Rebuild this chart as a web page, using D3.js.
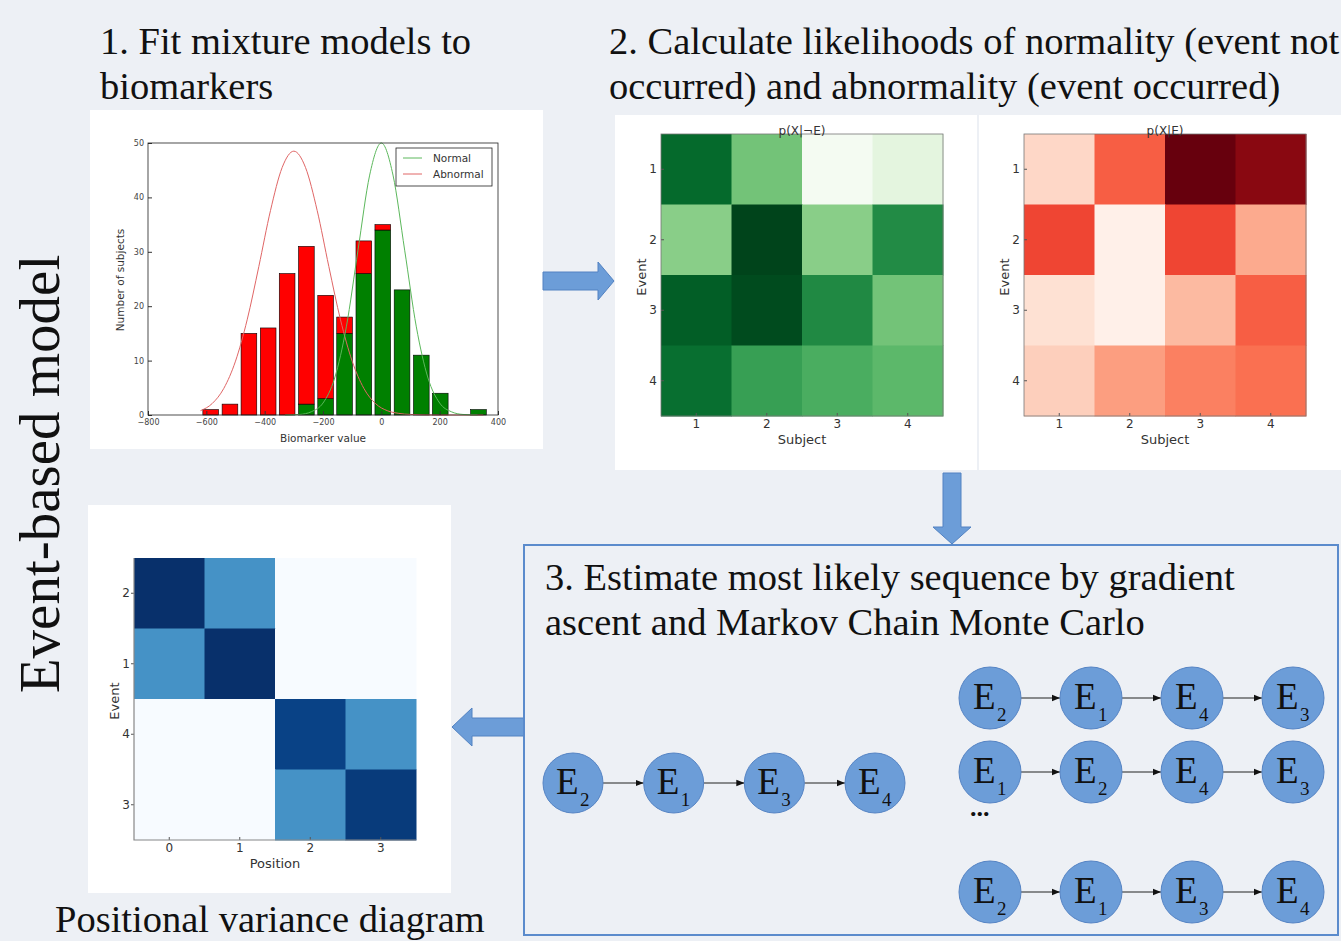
<!DOCTYPE html>
<html>
<head>
<meta charset="utf-8">
<script src="https://d3js.org/d3.v7.min.js"></script>
<style>
  body { margin: 0; background: #edf0f5; }
  svg { display: block; }
</style>
</head>
<body>
<svg id="svg" width="1341" height="941"></svg>
<script>
// ---- data ----
const binCenters = [-585, -519, -454, -388, -323, -257, -191, -126, -60, 5, 71, 137, 202, 268, 333];
const normalCounts = [0, 0, 0, 0, 0, 2, 3, 15, 26, 34, 23, 11, 4, 0, 1];
const abnormalCounts = [1, 2, 15, 16, 26, 29, 19, 3, 6, 1, 0, 0, 0, 0, 0];
const binWidth = 65.6;

const normalCurveX = [-330, -280, -240, -200, -160, -120, -80, -40, 0, 40, 80, 120, 160, 200, 240, 280, 330];
const normalCurveY = [0, 0.1, 0.6, 2.2, 6.8, 16.2, 30.3, 44.1, 50, 44.1, 30.3, 16.2, 6.8, 2.2, 0.6, 0.1, 0];
const abnormalCurveX = [-620, -580, -540, -500, -460, -420, -380, -340, -300, -260, -220, -180, -140, -100, -60, -20, 20, 60, 100, 200, 350];
const abnormalCurveY = [0.8, 2.1, 4.9, 9.9, 17.5, 27.3, 37.6, 45.5, 48.5, 45.5, 37.6, 27.3, 17.5, 9.9, 4.9, 2.1, 0.8, 0.3, 0.1, 0, 0];

const histXTicks = [-800, -600, -400, -200, 0, 200, 400];
const histYTicks = [0, 10, 20, 30, 40, 50];

const subjects = [1, 2, 3, 4];
const events = [1, 2, 3, 4];
// rows = events, columns = subjects
const pNotE = [
  [0.88, 0.50, 0.02, 0.12],
  [0.44, 1.00, 0.44, 0.75],
  [0.92, 0.98, 0.76, 0.50],
  [0.86, 0.67, 0.61, 0.56]
];
const pE = [
  [0.15, 0.53, 1.00, 0.93],
  [0.60, 0.03, 0.60, 0.30],
  [0.11, 0.03, 0.25, 0.53],
  [0.18, 0.34, 0.43, 0.48]
];

const pvEvents = [2, 1, 4, 3];
const positions = [0, 1, 2, 3];
const pvValues = [
  [1.00, 0.62, 0, 0],
  [0.62, 1.00, 0, 0],
  [0, 0, 0.93, 0.62],
  [0, 0, 0.62, 0.96]
];

const mlSequence = [2, 1, 3, 4];
const mcmcSequences = [[2, 1, 4, 3], [1, 2, 4, 3], [2, 1, 3, 4]];

// ---- drawing ----
const svg = d3.select('#svg');
const serif = '"Liberation Serif", "Times New Roman", serif';
const sans = '"DejaVu Sans", sans-serif';
const arrowBlue = '#6c9dd8';
const arrowEdge = '#5282c2';

svg.append('rect').attr('width', 1341).attr('height', 941).attr('fill', '#edf0f5');

// white panels
svg.append('rect').attr('x', 90).attr('y', 110).attr('width', 453).attr('height', 339).attr('fill', '#fff');
svg.append('rect').attr('x', 615).attr('y', 115).attr('width', 362).attr('height', 355).attr('fill', '#fff');
svg.append('rect').attr('x', 979).attr('y', 115).attr('width', 362).attr('height', 355).attr('fill', '#fff');
svg.append('rect').attr('x', 88).attr('y', 505).attr('width', 363).attr('height', 388).attr('fill', '#fff');

// titles
const addText = (x, y, txt, size, opts = {}) => {
  const t = svg.append('text').attr('x', x).attr('y', y).text(txt)
    .attr('font-family', opts.family || serif).attr('font-size', size).attr('fill', opts.fill || '#111');
  if (opts.anchor) t.attr('text-anchor', opts.anchor);
  if (opts.transform) t.attr('transform', opts.transform);
  return t;
};
addText(100, 54, '1. Fit mixture models to', 38.5);
addText(100, 99, 'biomarkers', 38.5);
addText(609, 54, '2. Calculate likelihoods of normality (event not', 38.5);
addText(609, 99, 'occurred) and abnormality (event occurred)', 38.5);
addText(545, 590, '3. Estimate most likely sequence by gradient', 38.5);
addText(545, 635, 'ascent and Markov Chain Monte Carlo', 38.5);
addText(55, 932, 'Positional variance diagram', 38.5);
addText(0, 0, 'Event-based model', 57, { anchor: 'middle', transform: 'translate(59,474) rotate(-90)' });

// ---- histogram ----
const hx = d3.scaleLinear().domain([-800, 400]).range([148, 498]);
const hy = d3.scaleLinear().domain([0, 50]).range([415, 143]);
const hist = svg.append('g');
const barW = hx(binWidth * 0.82) - hx(0);

hist.selectAll('rect.normal').data(binCenters).enter().append('rect')
  .attr('x', (d) => hx(d) - barW / 2)
  .attr('y', (d, i) => hy(normalCounts[i]))
  .attr('width', barW)
  .attr('height', (d, i) => hy(0) - hy(normalCounts[i]))
  .attr('fill', '#008000').attr('stroke', '#000').attr('stroke-width', 0.6)
  .style('display', (d, i) => normalCounts[i] ? null : 'none');

hist.selectAll('rect.abnormal').data(binCenters).enter().append('rect')
  .attr('x', (d) => hx(d) - barW / 2)
  .attr('y', (d, i) => hy(normalCounts[i] + abnormalCounts[i]))
  .attr('width', barW)
  .attr('height', (d, i) => hy(normalCounts[i]) - hy(normalCounts[i] + abnormalCounts[i]))
  .attr('fill', '#ff0000').attr('stroke', '#000').attr('stroke-width', 0.6)
  .style('display', (d, i) => abnormalCounts[i] ? null : 'none');

const curve = d3.line().x((d) => hx(d[0])).y((d) => hy(d[1])).curve(d3.curveMonotoneX);
hist.append('path').attr('d', curve(abnormalCurveX.map((x, i) => [x, abnormalCurveY[i]])))
  .attr('fill', 'none').attr('stroke', '#e06666').attr('stroke-width', 1);
hist.append('path').attr('d', curve(normalCurveX.map((x, i) => [x, normalCurveY[i]])))
  .attr('fill', 'none').attr('stroke', '#5cb85c').attr('stroke-width', 1);

const styleAxis = (g) => {
  g.selectAll('text').attr('font-family', sans).attr('font-size', 8).attr('fill', '#444');
  g.selectAll('line').attr('stroke', '#333');
  g.select('.domain').remove();
};
hist.append('g').attr('transform', 'translate(0,415)')
  .call(d3.axisBottom(hx).tickValues(histXTicks).tickSizeInner(-4).tickSizeOuter(0).tickPadding(4)
    .tickFormat((d) => d < 0 ? '\u2212' + Math.abs(d) : d))
  .call(styleAxis);
hist.append('g').attr('transform', 'translate(148,0)')
  .call(d3.axisLeft(hy).tickValues(histYTicks).tickSizeInner(-4).tickSizeOuter(0).tickPadding(4))
  .call(styleAxis);
hist.append('rect').attr('x', 148).attr('y', 143).attr('width', 350).attr('height', 272)
  .attr('fill', 'none').attr('stroke', '#222').attr('stroke-width', 0.8);
addText(323, 442, 'Biomarker value', 10.5, { family: sans, anchor: 'middle', fill: '#333' });
addText(0, 0, 'Number of subjects', 10.5, { family: sans, anchor: 'middle', fill: '#333', transform: 'translate(124,280) rotate(-90)' });

// legend
const leg = hist.append('g');
leg.append('rect').attr('x', 396).attr('y', 148).attr('width', 96).attr('height', 38)
  .attr('fill', '#fff').attr('stroke', '#222').attr('stroke-width', 0.8);
[['Normal', '#5cb85c'], ['Abnormal', '#e06666']].forEach((d, i) => {
  leg.append('line').attr('x1', 403).attr('x2', 422).attr('y1', 158 + i * 16).attr('y2', 158 + i * 16)
    .attr('stroke', d[1]).attr('stroke-width', 1);
  addText(433, 162 + i * 16, d[0], 10.5, { family: sans, fill: '#333' });
});

// ---- heatmaps ----
const drawHeatmap = (cfg) => {
  const g = svg.append('g');
  const x = d3.scaleBand().domain(cfg.cols).range([cfg.x0, cfg.x0 + cfg.size]);
  const y = d3.scaleBand().domain(cfg.rows).range([cfg.y0, cfg.y0 + cfg.size]);
  const color = d3.scaleSequential(cfg.interp).domain([0, 1]);
  cfg.values.forEach((row, r) => {
    g.selectAll(null).data(row).enter().append('rect')
      .attr('x', (d, c) => x(cfg.cols[c]))
      .attr('y', y(cfg.rows[r]))
      .attr('width', x.bandwidth() + 0.5)
      .attr('height', y.bandwidth() + 0.5)
      .attr('fill', (d) => color(d));
  });
  const ax = (a) => {
    a.selectAll('text').attr('font-family', sans).attr('font-size', 12).attr('fill', '#333');
    a.selectAll('line').attr('stroke', '#555');
    a.select('.domain').remove();
  };
  g.append('g').attr('transform', `translate(0,${cfg.y0 + cfg.size})`)
    .call(d3.axisBottom(x).tickSizeInner(-3).tickSizeOuter(0).tickPadding(3)).call(ax);
  g.append('g').attr('transform', `translate(${cfg.x0},0)`)
    .call(d3.axisLeft(y).tickSizeInner(cfg.outTicks ? 3 : -3).tickSizeOuter(0).tickPadding(cfg.outTicks ? 1 : 4)).call(ax);
  if (cfg.frame) {
    g.append('rect').attr('x', cfg.x0).attr('y', cfg.y0).attr('width', cfg.size).attr('height', cfg.size)
      .attr('fill', 'none').attr('stroke', '#777').attr('stroke-width', 0.8);
  } else {
    g.append('path').attr('d', `M${cfg.x0},${cfg.y0}V${cfg.y0 + cfg.size}H${cfg.x0 + cfg.size}`)
      .attr('fill', 'none').attr('stroke', '#888').attr('stroke-width', 1.2);
  }
  if (cfg.title) addText(cfg.x0 + cfg.size / 2, cfg.y0 + 1, cfg.title, 12, { family: sans, anchor: 'middle', fill: '#333' });
  addText(cfg.x0 + cfg.size / 2, cfg.y0 + cfg.size + 28, cfg.xLabel, 13, { family: sans, anchor: 'middle', fill: '#333' });
  addText(0, 0, cfg.yLabel, 13, { family: sans, anchor: 'middle', fill: '#333',
    transform: `translate(${cfg.x0 - 15},${cfg.y0 + cfg.size / 2 + 2}) rotate(-90)` });
};

drawHeatmap({ x0: 661, y0: 134, size: 282, rows: events, cols: subjects, values: pNotE,
  interp: d3.interpolateGreens, title: 'p(X|\u00acE)', xLabel: 'Subject', yLabel: 'Event', frame: true });
drawHeatmap({ x0: 1024, y0: 134, size: 282, rows: events, cols: subjects, values: pE,
  interp: d3.interpolateReds, title: 'p(X|E)', xLabel: 'Subject', yLabel: 'Event', frame: true });
drawHeatmap({ x0: 134, y0: 558, size: 282, rows: pvEvents, cols: positions, values: pvValues,
  interp: d3.interpolateBlues, xLabel: 'Position', yLabel: 'Event', frame: false, outTicks: true });

// ---- block arrows ----
const block = (pts) => svg.append('path').attr('d', d3.line()(pts) + 'Z')
  .attr('fill', arrowBlue).attr('stroke', arrowEdge).attr('stroke-width', 1);
block([[543, 272], [598, 272], [598, 262], [614, 281], [598, 300], [598, 290], [543, 290]]);
block([[943, 473], [961, 473], [961, 527], [971, 527], [952, 544], [933, 527], [943, 527]]);
block([[524, 718], [472, 718], [472, 708], [452, 727], [472, 746], [472, 736], [524, 736]]);

// box for step 3
svg.append('rect').attr('x', 524).attr('y', 545).attr('width', 814).attr('height', 390)
  .attr('fill', 'none').attr('stroke', '#5b8bcc').attr('stroke-width', 2);

// ---- sequences ----
svg.append('defs').append('marker').attr('id', 'tri').attr('viewBox', '0 0 10 10')
  .attr('refX', 10).attr('refY', 5).attr('markerWidth', 8).attr('markerHeight', 8)
  .attr('markerUnits', 'userSpaceOnUse').attr('orient', 'auto')
  .append('path').attr('d', 'M0,1L10,5L0,9Z').attr('fill', '#111');

const drawSequence = (seq, xScale, cy, r) => {
  const g = svg.append('g');
  seq.forEach((e, i) => {
    if (i < seq.length - 1) {
      g.append('line').attr('x1', xScale(i) + r).attr('x2', xScale(i + 1) - r)
        .attr('y1', cy).attr('y2', cy).attr('stroke', '#222').attr('stroke-width', 1.1)
        .attr('marker-end', 'url(#tri)');
    }
  });
  const node = g.selectAll('g.node').data(seq).enter().append('g')
    .attr('transform', (d, i) => `translate(${xScale(i)},${cy})`);
  node.append('circle').attr('r', r).attr('fill', arrowBlue).attr('stroke', '#5684c4').attr('stroke-width', 1);
  node.append('text').attr('x', -17).attr('y', 11).text('E')
    .attr('font-family', serif).attr('font-size', 37).attr('fill', '#111');
  node.append('text').attr('x', 7).attr('y', 23).text((d) => d)
    .attr('font-family', serif).attr('font-size', 19).attr('fill', '#111');
};

const leftX = d3.scalePoint().domain(d3.range(4)).range([573, 875]);
drawSequence(mlSequence, leftX, 783, 30);

const rightX = d3.scalePoint().domain(d3.range(4)).range([990, 1293]);
const rightY = [698, 772, 892];
mcmcSequences.forEach((seq, i) => drawSequence(seq, rightX, rightY[i], 31));
addText(970, 816, '...', 26, { fill: '#111' }).attr('font-weight', 'bold');
</script>
</body>
</html>
